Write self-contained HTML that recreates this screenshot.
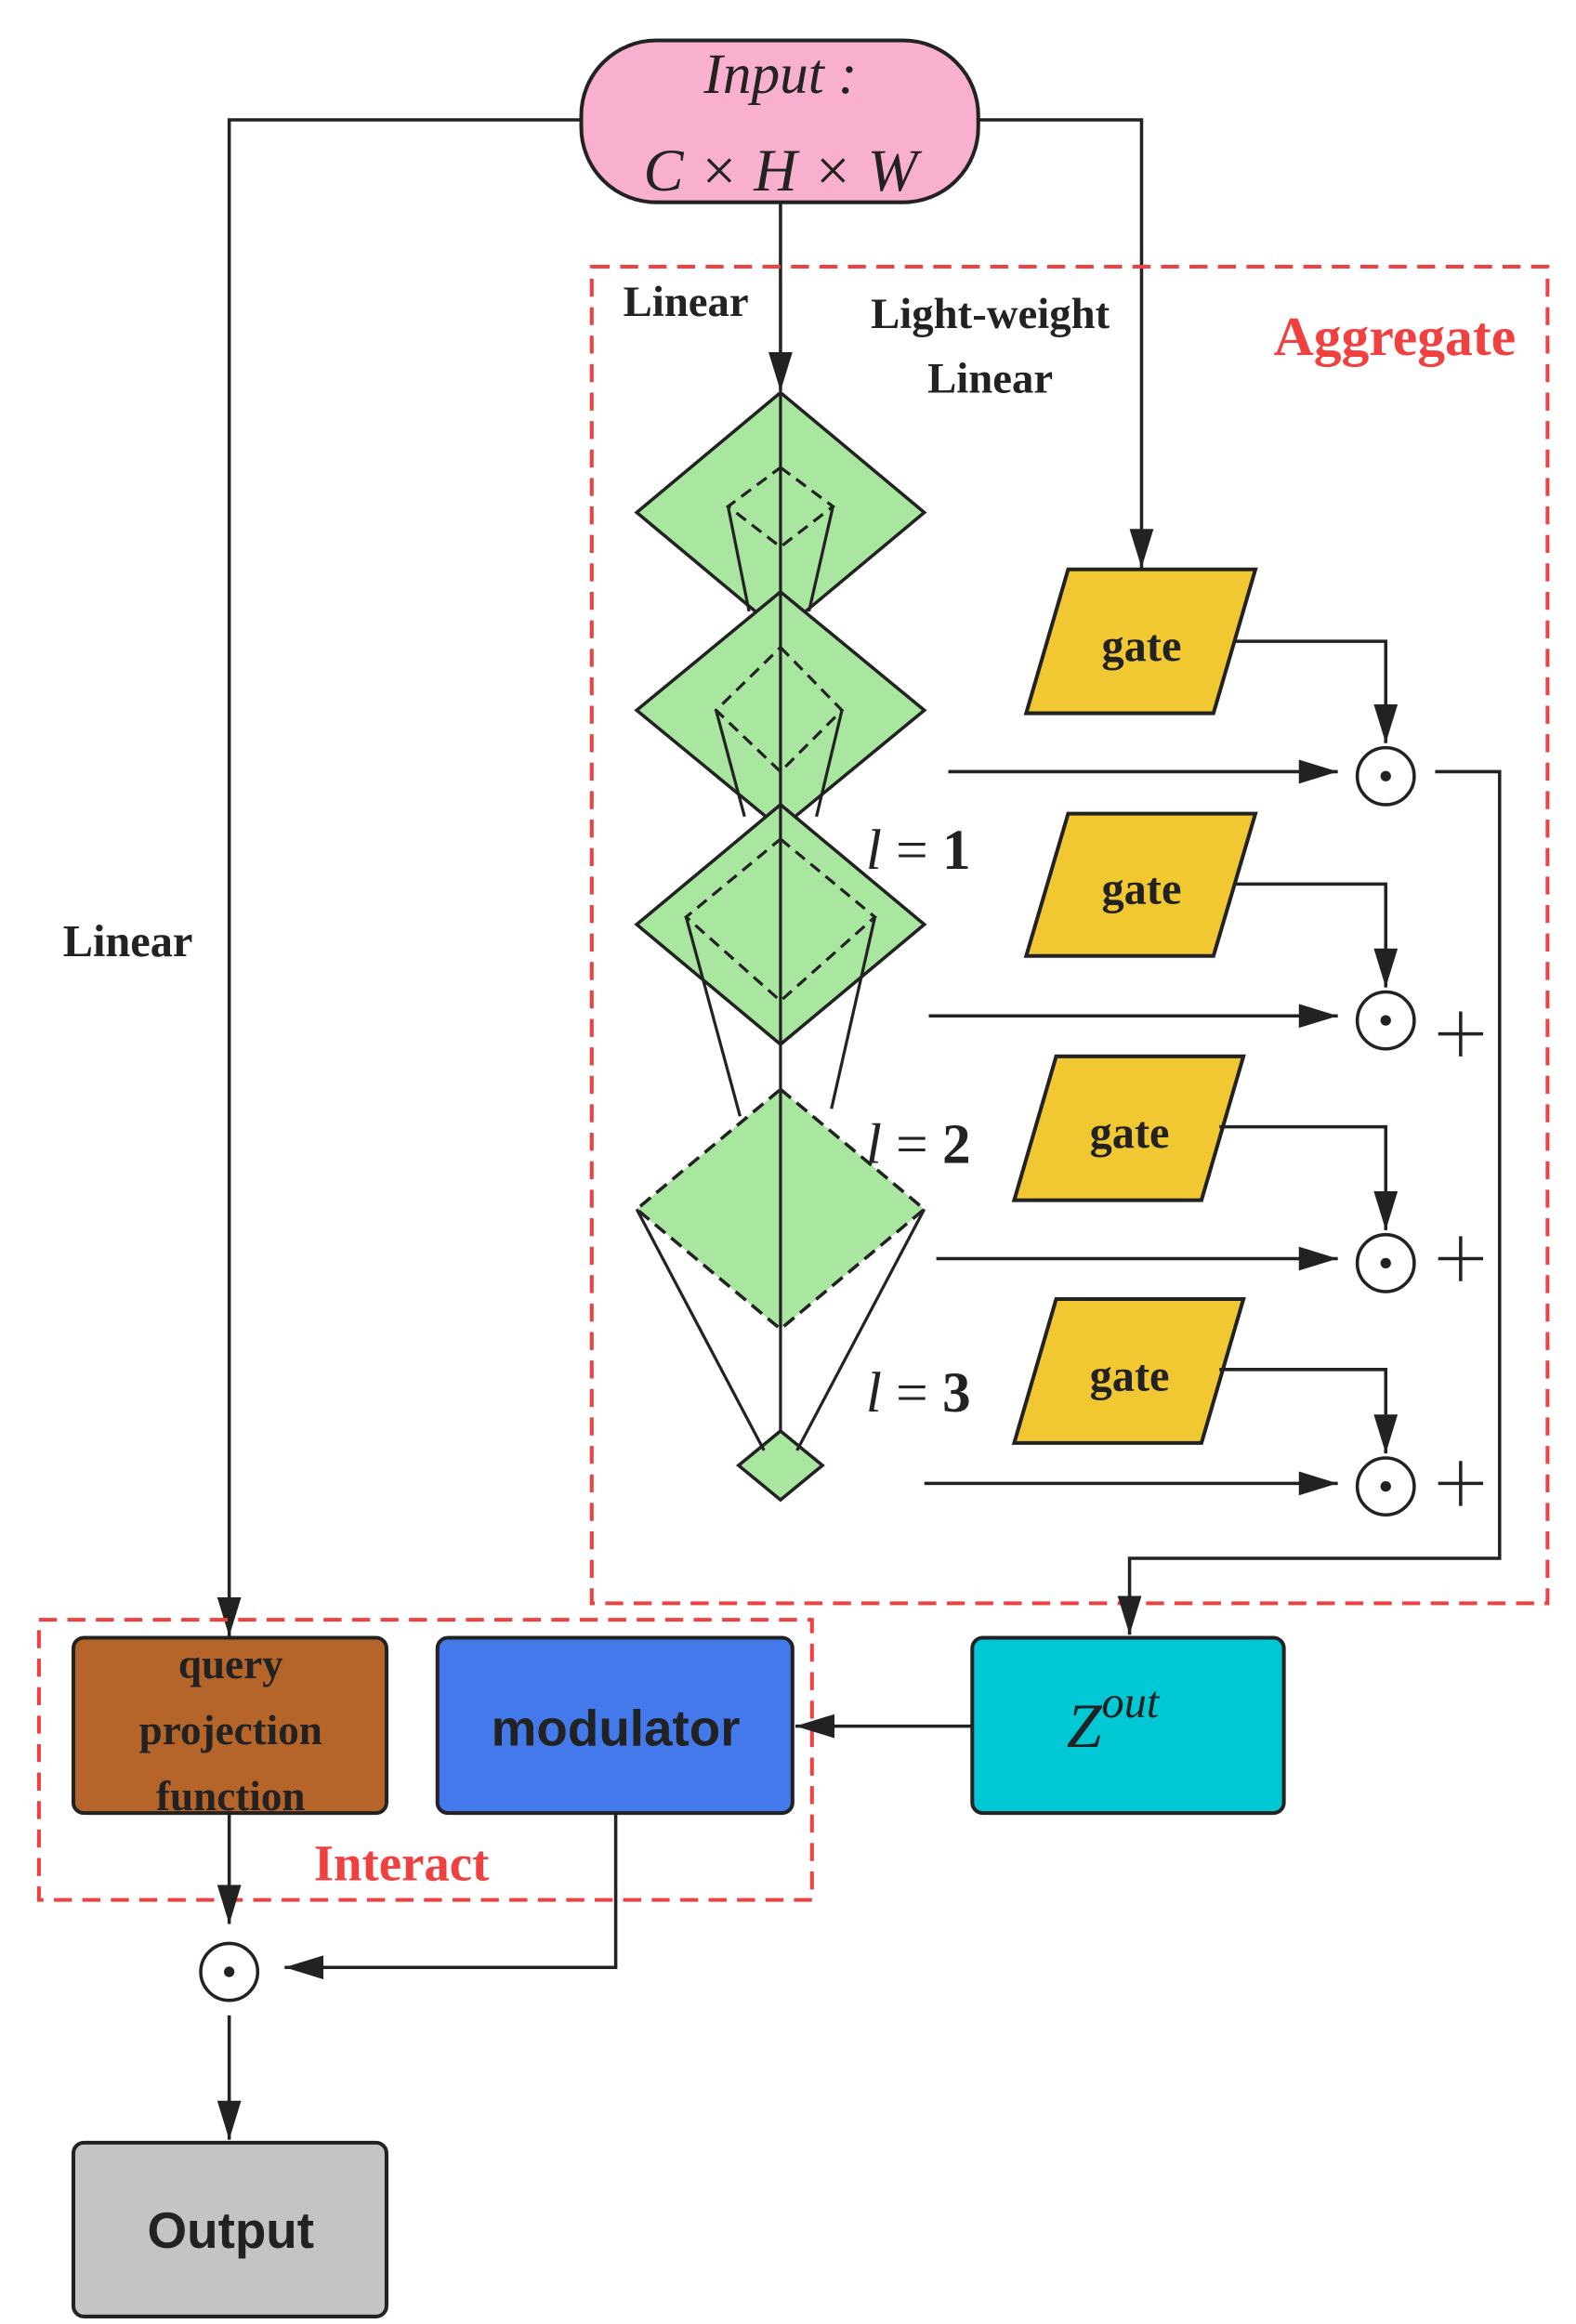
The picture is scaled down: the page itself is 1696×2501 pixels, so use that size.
<!DOCTYPE html>
<html><head><meta charset="utf-8"><style>
html,body{margin:0;padding:0;background:#fff;}
svg{display:block;}
.serif{font-family:"Liberation Serif",serif;}
.sans{font-family:"Liberation Sans",sans-serif;}
</style></head><body>
<svg width="1696" height="2501" viewBox="0 0 1052 1551" preserveAspectRatio="none" xmlns="http://www.w3.org/2000/svg">
<defs>
<marker id="ah" viewBox="0 0 10 10" refX="10" refY="5" markerWidth="10" markerHeight="10" markerUnits="userSpaceOnUse" orient="auto">
<path d="M0,0 L10,5 L0,10 z" fill="#222"/></marker>
<marker id="ahb" viewBox="0 0 10 10" refX="10" refY="5" markerWidth="26" markerHeight="16" markerUnits="userSpaceOnUse" orient="auto" preserveAspectRatio="none">
<path d="M0,0 L10,5 L0,10 z" fill="#222"/></marker>
</defs>
<g stroke="#222" stroke-width="2.2" fill="none">
<!-- input connectors -->
<polyline points="390,80 153,80 153,1092" marker-end="url(#ahb)"/>
<polyline points="651,80 762,80 762,379" marker-end="url(#ahb)"/>
<line x1="521" y1="135" x2="521" y2="261" marker-end="url(#ahb)"/>
</g>
<!-- Aggregate box -->
<rect x="395" y="178" width="638" height="892" fill="none" stroke="#f04040" stroke-width="2.5" stroke-dasharray="12,7"/>
<!-- Input pill -->
<rect x="388" y="27" width="265" height="108" rx="50" fill="#f9b0cf" stroke="#222" stroke-width="2.5"/>
<text x="521" y="62" text-anchor="middle" class="serif" font-style="italic" font-size="38" fill="#222">Input :</text>
<text x="521" y="127" text-anchor="middle" class="serif" font-style="italic" font-size="40" fill="#222">C × H × W</text>
<!-- labels -->
<text x="416" y="211" class="serif" font-weight="bold" font-size="29" fill="#222">Linear</text>
<text x="661" y="219" text-anchor="middle" class="serif" font-weight="bold" font-size="29" fill="#222">Light-weight</text>
<text x="661" y="262" text-anchor="middle" class="serif" font-weight="bold" font-size="29" fill="#222">Linear</text>
<text x="931" y="237" text-anchor="middle" class="serif" font-weight="bold" font-size="37" fill="#f04040">Aggregate</text>
<text x="42" y="638" class="serif" font-weight="bold" font-size="30" fill="#222">Linear</text>
<!-- diamonds -->
<g fill="#a9e6a0" stroke="#222" stroke-width="2.2">
<polygon points="521,262 617,342 521,422 425,342"/>
<polygon points="521,395 617,474 521,553 425,474"/>
<polygon points="521,537 617,617 521,697 425,617"/>
<polygon points="521,727 617,807 521,887 425,807" stroke-dasharray="9,5"/>
<polygon points="521,955 549,978 521,1001 493,978"/>
</g>
<g fill="none" stroke="#222" stroke-width="2">
<polygon points="521,312 556,338 521,365 486,338" stroke-dasharray="8,5"/>
<polyline points="486,338 500,408"/><polyline points="556,338 540,408"/>
<polygon points="521,432 562,474 521,515 478,474" stroke-dasharray="8,5"/>
<polyline points="478,474 497,545"/><polyline points="562,474 545,545"/>
<polygon points="521,560 584,612 521,668 458,612" stroke-dasharray="8,5"/>
<polyline points="458,612 494,745"/><polyline points="584,612 555,740"/>
<polyline points="425,807 510,968"/><polyline points="617,807 532,968"/>
<line x1="521" y1="262" x2="521" y2="955"/>
</g>
<!-- l labels -->
<g class="serif" font-size="38" fill="#222">
<text x="578" y="580"><tspan font-style="italic">l</tspan> = <tspan font-weight="bold">1</tspan></text>
<text x="578" y="776"><tspan font-style="italic">l</tspan> = <tspan font-weight="bold">2</tspan></text>
<text x="578" y="942"><tspan font-style="italic">l</tspan> = <tspan font-weight="bold">3</tspan></text>
</g>
<!-- gates -->
<g fill="#f2c832" stroke="#222" stroke-width="2.5">
<polygon points="713,380 838,380 810,476 685,476"/>
<polygon points="713,543 838,543 810,638 685,638"/>
<polygon points="705,705 830,705 802,801 677,801"/>
<polygon points="705,867 830,867 802,963 677,963"/>
</g>
<g class="serif" font-weight="bold" font-size="30" fill="#222" text-anchor="middle">
<text x="762" y="441">gate</text><text x="762" y="603">gate</text>
<text x="754" y="766">gate</text><text x="754" y="928">gate</text>
</g>
<g stroke="#222" stroke-width="2.2" fill="none">
<polyline points="824,428 925,428 925,496" marker-end="url(#ahb)"/>
<polyline points="824,590 925,590 925,659" marker-end="url(#ahb)"/>
<polyline points="814,752 925,752 925,821" marker-end="url(#ahb)"/>
<polyline points="814,914 925,914 925,970" marker-end="url(#ahb)"/>
<line x1="633" y1="515" x2="893" y2="515" marker-end="url(#ahb)"/>
<line x1="620" y1="678" x2="893" y2="678" marker-end="url(#ahb)"/>
<line x1="625" y1="840" x2="893" y2="840" marker-end="url(#ahb)"/>
<line x1="617" y1="990" x2="893" y2="990" marker-end="url(#ahb)"/>
<circle cx="925" cy="518" r="19"/><circle cx="925" cy="681" r="19"/>
<circle cx="925" cy="843" r="19"/><circle cx="925" cy="992" r="19"/>
<polyline points="958,515 1001,515 1001,1040 754,1040 754,1091" marker-end="url(#ahb)"/>
<path d="M960,690 h30 M975,675 v30 M960,840 h30 M975,825 v30 M960,990 h30 M975,975 v30"/>
</g>
<g fill="#222"><circle cx="925" cy="518" r="3.5"/><circle cx="925" cy="681" r="3.5"/><circle cx="925" cy="843" r="3.5"/><circle cx="925" cy="992" r="3.5"/></g>
<!-- Interact -->
<rect x="26" y="1081" width="516" height="187" fill="none" stroke="#f04040" stroke-width="2.5" stroke-dasharray="12,7"/>
<rect x="49" y="1093" width="209" height="117" rx="7" fill="#b5652a" stroke="#222" stroke-width="2.5"/>
<g class="serif" font-weight="bold" font-size="28" fill="#222" text-anchor="middle">
<text x="154" y="1120">query</text><text x="154" y="1164">projection</text><text x="154" y="1208">function</text>
</g>
<rect x="292" y="1093" width="237" height="117" rx="7" fill="#4479ec" stroke="#222" stroke-width="2.5"/>
<text x="411" y="1165" text-anchor="middle" class="sans" font-weight="bold" font-size="34" fill="#222">modulator</text>
<rect x="649" y="1093" width="208" height="117" rx="7" fill="#00c8d4" stroke="#222" stroke-width="2.5"/>
<text x="712" y="1166" class="serif" font-style="italic" font-size="42" fill="#222">Z<tspan font-size="30" dy="-20">out</tspan></text>
<text x="268" y="1255" text-anchor="middle" class="serif" font-weight="bold" font-size="34" fill="#f04040">Interact</text>
<g stroke="#222" stroke-width="2.2" fill="none">
<line x1="649" y1="1152" x2="531" y2="1152" marker-end="url(#ahb)"/>
<line x1="153" y1="1210" x2="153" y2="1284" marker-end="url(#ahb)"/>
<polyline points="411,1210 411,1313 190,1313" marker-end="url(#ahb)"/>
<circle cx="153" cy="1316" r="19"/>
<line x1="153" y1="1345" x2="153" y2="1428" marker-end="url(#ahb)"/>
</g>
<circle cx="153" cy="1316" r="3.5" fill="#222"/>
<rect x="49" y="1430" width="209" height="116" rx="7" fill="#c3c4c6" stroke="#222" stroke-width="2.5"/>
<text x="154" y="1500" text-anchor="middle" class="sans" font-weight="bold" font-size="34" fill="#222">Output</text>
</svg>
</body></html>
